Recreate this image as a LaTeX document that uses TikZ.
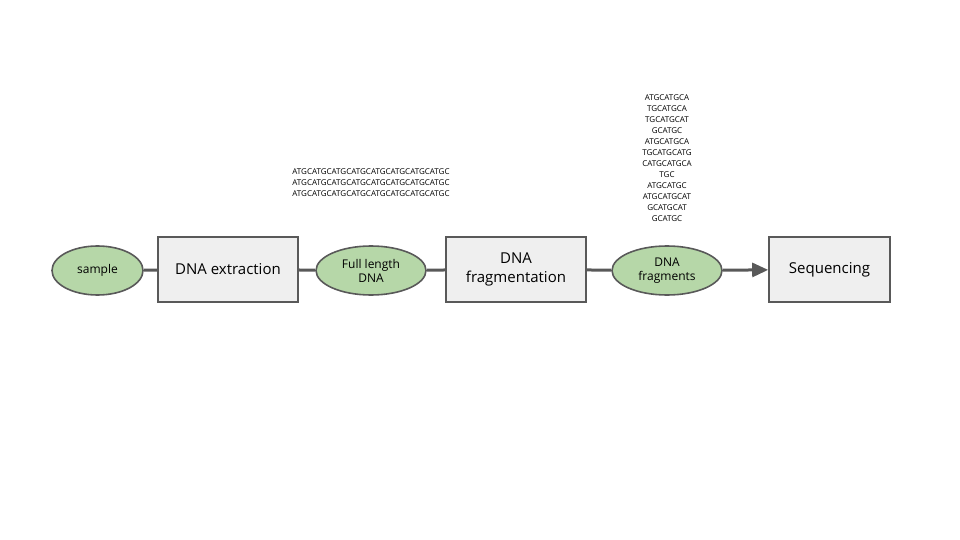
\documentclass[tikz,border=0pt]{standalone}
\usepackage{fontspec}
\setmainfont{Open Sans}
\usetikzlibrary{arrows.meta,shapes}
\definecolor{leafgreen}{HTML}{B6D7A8}
\definecolor{boxgray}{HTML}{EFEFEF}
\definecolor{edgegray}{HTML}{595959}

\begin{document}
\begin{tikzpicture}[x=1pt,y=-1pt,
        product/.style={ellipse,draw=edgegray,line width=1.6pt,fill=leafgreen,inner sep=0pt,minimum width=91pt,minimum height=49pt,align=center,font=\fontsize{12}{14}\selectfont},
        process/.style={rectangle,draw=edgegray,line width=1.6pt,fill=boxgray,inner sep=0pt,minimum width=140pt,minimum height=65pt,align=center,font=\fontsize{15}{19}\selectfont},
        link/.style={draw=edgegray,line width=3pt},
        seq/.style={align=center,inner sep=0pt,font=\fontsize{8}{11}\selectfont}]
    \useasboundingbox (0,0) rectangle (960,540);
    \node[product] (sample) at (97.5,270.5) {sample};
    \node[process] (extract) at (228,269.5) {DNA extraction};
    \node[product,minimum width=110pt] (fulldna) at (371,270.5) {Full length\\DNA};
    \node[process] (fragment) at (516,269.5) {DNA\\fragmentation};
    \node[product,minimum width=110pt] (fragdna) at (667,270.5) {DNA\\fragments};
    \node[process,minimum width=121pt] (seqing) at (829.5,269.5) {Sequencing};
    \draw[link] (sample)--(extract);
    \draw[link] (extract)--(fulldna);
    \draw[link] (fulldna)--(fragment);
    \draw[link] (fragment)--(fragdna);
    \draw[link,-{Triangle[length=16pt,width=14pt]}] (fragdna)--(seqing);
    \node[seq] (longreads) at (371,183) {ATGCATGCATGCATGCATGCATGCATGCATGC\\ATGCATGCATGCATGCATGCATGCATGCATGC\\ATGCATGCATGCATGCATGCATGCATGCATGC};
    \node[seq] (shortreads) at (667,158.5) {ATGCATGCA\\TGCATGCA\\TGCATGCAT\\GCATGC\\ATGCATGCA\\TGCATGCATG\\CATGCATGCA\\TGC\\ATGCATGC\\ATGCATGCAT\\GCATGCAT\\GCATGC};
\end{tikzpicture}
\end{document}
